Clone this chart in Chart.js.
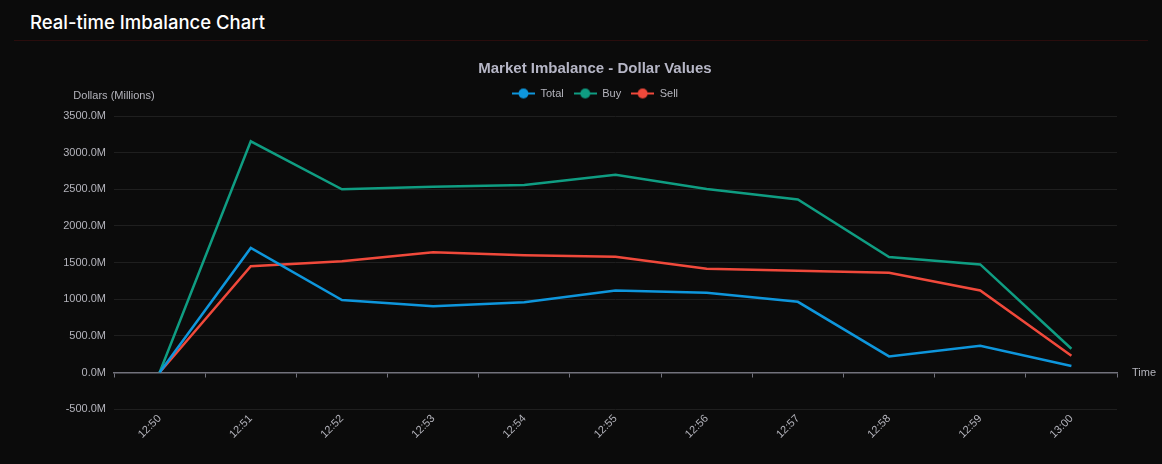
<!DOCTYPE html>
<html>
<head>
<meta charset="utf-8">
<script src="https://cdn.jsdelivr.net/npm/chart.js@4.4.1/dist/chart.umd.min.js"></script>
<style>
  html, body { margin: 0; padding: 0; background: #0b0b0b; }
  body { width: 1162px; height: 464px; position: relative; overflow: hidden; }
  .header {
    position: absolute; left: 30px; top: 9px;
    font-family: Inter, "Noto Sans", sans-serif; font-size: 18.5px; font-weight: 500;
    color: #ffffff; line-height: 26px;
  }
  .rule { position: absolute; left: 14px; right: 14px; top: 40px; height: 1px; background: #2a0d0d; }
  .wrap { position: absolute; left: 0; top: 44px; width: 1162px; height: 420px; }
</style>
</head>
<body>
<div class="header">Real-time Imbalance Chart</div>
<div class="rule"></div>
<div class="wrap"><canvas id="chartImbalance"></canvas></div>
<script>
// ================== DATA ================ //
const TIMES = ["12:50", "12:51", "12:52", "12:53", "12:54", "12:55", "12:56", "12:57", "12:58", "12:59", "13:00"];
const TOTAL = [0, 1700, 990, 905, 960, 1120, 1090, 965, 220, 365, 90];
const BUY = [0, 3155, 2500, 2535, 2560, 2700, 2505, 2360, 1575, 1475, 325];
const SELL = [0, 1450, 1520, 1640, 1600, 1580, 1415, 1390, 1360, 1120, 230];

const SERIES_NAMES = ["Total", "Buy", "Sell"];
const COLORS = ["#0e96dc", "#0f9d82", "#f0493b"];

const TEXT_COLOR = "#b4b4bc";
const TITLE_COLOR = "#b6b6c6";
const GRID_COLOR = "#1f1f1f";
const AXIS_COLOR = "#72727c";

Chart.defaults.font.family = "'Liberation Sans', Arial, sans-serif";

// legend icon: line with a dot in the middle
function makeLegendIcon(color) {
  const c = document.createElement("canvas");
  c.width = 23;
  c.height = 12;
  const ctx = c.getContext("2d");
  ctx.strokeStyle = color;
  ctx.lineWidth = 2;
  ctx.beginPath();
  ctx.moveTo(0, 6);
  ctx.lineTo(23, 6);
  ctx.stroke();
  ctx.fillStyle = color;
  ctx.beginPath();
  ctx.arc(11.5, 6, 5, 0, Math.PI * 2);
  ctx.fill();
  return c;
}
const ICONS = COLORS.map(makeLegendIcon);

// axis names: "Dollars (Millions)" above the y axis, "Time" at the end of the x axis
const axisNamePlugin = {
  id: "axisNames",
  afterLayout(chart) {
    // y labels are wider than the box we gave the axis, let them draw to the left
    const y = chart.scales.y;
    y.left = 0;
  },
  afterDraw(chart) {
    const { ctx, chartArea, scales } = chart;
    ctx.save();
    ctx.fillStyle = TEXT_COLOR;
    ctx.font = "11px 'Liberation Sans', Arial, sans-serif";
    ctx.textBaseline = "middle";
    ctx.textAlign = "center";
    ctx.fillText("Dollars (Millions)", chartArea.left, chartArea.top - 20);
    ctx.textAlign = "left";
    ctx.fillText("Time", chartArea.right + 15, scales.y.getPixelForValue(0));
    ctx.restore();
  },
};

// a bit more room under the legend
const legendGapPlugin = {
  id: "legendGap",
  beforeInit(chart) {
    const origFit = chart.legend.fit;
    chart.legend.fit = function () {
      origFit.bind(chart.legend)();
      this.height += 7;
    };
  },
};

function renderChartImbalance() {
  const canvas = document.getElementById("chartImbalance");
  if (!canvas) return;

  const values = [TOTAL, BUY, SELL];
  const datasets = SERIES_NAMES.map((name, i) => ({
    label: name,
    data: values[i],
    borderColor: COLORS[i],
    backgroundColor: COLORS[i],
    borderWidth: 2.5,
    tension: 0,
    pointRadius: 0,
    pointHoverRadius: 0,
    fill: false,
  }));

  new Chart(canvas, {
    type: "line",
    data: { labels: TIMES, datasets },
    plugins: [axisNamePlugin, legendGapPlugin],
    options: {
      responsive: true,
      maintainAspectRatio: false,
      animation: false,
      layout: { padding: { left: 73, right: 45, top: 0, bottom: 20 } },
      plugins: {
        title: {
          display: true,
          text: "Market Imbalance - Dollar Values",
          color: TITLE_COLOR,
          font: { size: 15, weight: "bold" },
          padding: { top: 16, bottom: 0 },
        },
        legend: {
          position: "top",
          labels: {
            color: TEXT_COLOR,
            font: { size: 11 },
            usePointStyle: true,
            pointStyleWidth: 23,
            padding: 10,
            generateLabels(chart) {
              const items = Chart.defaults.plugins.legend.labels.generateLabels(chart);
              items.forEach((it, i) => { it.pointStyle = ICONS[i]; });
              return items;
            },
          },
        },
        tooltip: { enabled: false },
      },
      scales: {
        x: {
          type: "category",
          offset: true,
          grid: { display: false, drawTicks: false },
          border: { display: false },
          ticks: { color: TEXT_COLOR, font: { size: 11 }, minRotation: 45, maxRotation: 45, padding: 3 },
        },
        x0: {
          type: "category",
          axis: "x",
          labels: TIMES,
          offset: true,
          position: { y: 0 },
          grid: { display: true, drawOnChartArea: false, drawTicks: true, tickLength: 4, color: AXIS_COLOR, offset: true },
          border: { display: true, color: AXIS_COLOR, width: 1.5 },
          ticks: { display: false },
        },
        y: {
          min: -500,
          max: 3500,
          afterFit(scale) { scale.width = 41; },
          ticks: {
            stepSize: 500,
            color: TEXT_COLOR,
            font: { size: 11 },
            padding: 8,
            callback: (v) => v.toFixed(1) + "M",
          },
          grid: { color: GRID_COLOR, drawTicks: false },
          border: { display: false },
        },
      },
    },
  });
}

renderChartImbalance();
</script>
</body>
</html>
